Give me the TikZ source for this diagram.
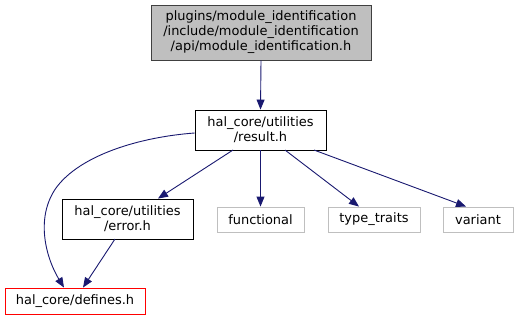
\documentclass[tikz,border=0pt]{standalone}
\usepackage{fontspec}
\setmainfont{DejaVu Sans}
\usetikzlibrary{arrows.meta}
\definecolor{edgeblue}{HTML}{191970}
\definecolor{grayfill}{HTML}{BFBFBF}
\definecolor{grayline}{HTML}{BFBFBF}
\tikzset{
  box/.style={draw=black, line width=0.9bp, inner sep=0pt, align=center,
    font=\fontsize{13}{15}\selectfont, text=black},
  extbox/.style={box, draw=grayline},
  edge/.style={draw=edgeblue, line width=0.9bp, -{Triangle[length=10bp,width=8bp]}},
}
\begin{document}
\begin{tikzpicture}[x=1bp,y=-1bp]
\useasboundingbox (0,0) rectangle (517,320);
\node[box, fill=grayfill, draw=black!75, minimum width=220bp, minimum height=55bp] (top) at (261,32.5)
  {plugins/module\_identification\\/include/module\_identification\\/api/module\_identification.h};
\node[box, minimum width=131bp, minimum height=40bp] (res) at (260.5,130) {hal\_core/utilities\\/result.h};
\node[box, minimum width=131bp, minimum height=40bp] (err) at (127.5,219) {hal\_core/utilities\\/error.h};
\node[box, draw=red, minimum width=140bp, minimum height=26bp] (def) at (75,301) {hal\_core/defines.h};
\node[extbox, minimum width=87bp, minimum height=25bp] (fun) at (260.5,219.5) {functional};
\node[extbox, minimum width=92bp, minimum height=25bp] (tt) at (374,219.5) {type\_traits};
\node[extbox, minimum width=70bp, minimum height=25bp] (var) at (478,219.5) {variant};
\draw[edge] (top.south) -- (res.north);
\draw[edge] (res.west |- 0,133) .. controls (140,137) and (80,155) .. (56,188) .. controls (35,218) and (46,258) .. (def.north -| 64,0);
\draw[edge] (233,150) -- (err.north -| 158,0);
\draw[edge] (115,239) -- (def.north -| 83,0);
\draw[edge] (res.south) -- (fun.north);
\draw[edge] (285,150) -- (tt.north -| 359,0);
\draw[edge] (314,150) -- (var.north -| 466,0);
\end{tikzpicture}
\end{document}
